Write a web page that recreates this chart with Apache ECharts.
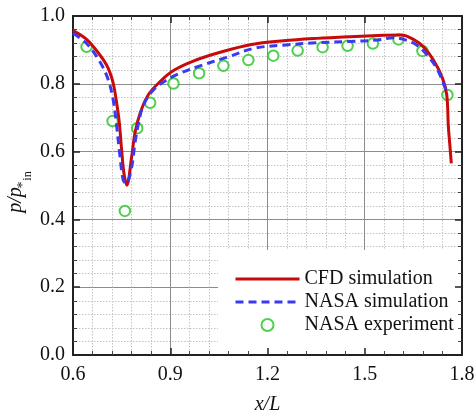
<!DOCTYPE html>
<html>
<head>
<meta charset="utf-8">
<script src="https://cdn.jsdelivr.net/npm/echarts@6/dist/echarts.min.js"></script>
<style>
  html, body { margin: 0; padding: 0; background: #fff; }
  #chart { width: 476px; height: 411px; }
</style>
</head>
<body>
<div id="chart"></div>
<script>
// Axis ticks
const xTickValues = [0.6, 0.9, 1.2, 1.5, 1.8];
const yTickValues = [0.0, 0.2, 0.4, 0.6, 0.8, 1.0];

// CFD simulation: pressure ratio along the duct
const cfdX = [0.600, 0.642, 0.683, 0.704, 0.714, 0.723, 0.730, 0.742, 0.750, 0.757, 0.766,
              0.781, 0.791, 0.807, 0.832, 0.868, 0.910, 0.971, 1.054, 1.150,
              1.249, 1.352, 1.455, 1.558, 1.614, 1.650, 1.681, 1.712, 1.740,
              1.753, 1.758, 1.763, 1.767];
const cfdY = [0.957, 0.931, 0.885, 0.855, 0.833, 0.806, 0.772, 0.693, 0.605, 0.537, 0.501,
              0.585, 0.654, 0.713, 0.767, 0.806, 0.839, 0.867, 0.893, 0.916,
              0.927, 0.934, 0.939, 0.943, 0.944, 0.931, 0.909, 0.870, 0.816,
              0.767, 0.673, 0.614, 0.565];

// NASA simulation
const nasaSimX = [0.600, 0.642, 0.683, 0.709, 0.724, 0.735, 0.745, 0.755, 0.764,
                  0.781, 0.791, 0.802, 0.817, 0.848, 0.889, 0.930, 0.992, 1.074,
                  1.160, 1.249, 1.352, 1.455, 1.537, 1.589, 1.620, 1.661, 1.692,
                  1.722, 1.743, 1.755];
const nasaSimY = [0.949, 0.919, 0.865, 0.811, 0.752, 0.673, 0.585, 0.516, 0.506,
                  0.555, 0.624, 0.683, 0.737, 0.782, 0.811, 0.831, 0.853, 0.878,
                  0.905, 0.914, 0.921, 0.925, 0.929, 0.936, 0.931, 0.914, 0.885,
                  0.846, 0.801, 0.767];

// NASA experiment
const nasaExpX = [0.642, 0.722, 0.760, 0.798, 0.838, 0.910, 0.989, 1.064, 1.141,
                  1.218, 1.293, 1.370, 1.447, 1.525, 1.604, 1.678, 1.755];
const nasaExpY = [0.909, 0.690, 0.425, 0.669, 0.744, 0.801, 0.831, 0.853, 0.870,
                  0.883, 0.898, 0.908, 0.912, 0.919, 0.931, 0.897, 0.767];

const zip = (xs, ys) => xs.map((x, i) => [x, ys[i]]);

const FONT = '"Liberation Serif", "Times New Roman", serif';
const INK = '#111';
const GRID = { left: 73, top: 16, width: 389, height: 339, containLabel: false, outerBoundsMode: 'none' };

const xMin = xTickValues[0], xMax = xTickValues[xTickValues.length - 1];
const xStep = +(xTickValues[1] - xTickValues[0]).toFixed(6);
const yMin = yTickValues[0], yMax = yTickValues[yTickValues.length - 1];
const yStep = +(yTickValues[1] - yTickValues[0]).toFixed(6);

// Axes that only carry the grid lines (drawn underneath everything)
function gridLineAxis(min, max, interval, extra) {
  return Object.assign({
    type: 'value', gridIndex: 0, min, max, interval, z: 0,
    axisLine: { show: false }, axisTick: { show: false }, axisLabel: { show: false },
    splitLine: { show: true, lineStyle: { color: '#8c8c8c', width: 1 } },
    minorTick: { show: false, splitNumber: 5 },
    minorSplitLine: { show: true, lineStyle: { color: '#c4c4c4', width: 1, type: [1.5, 1.5] } }
  }, extra);
}

// Frame axes with inward ticks
function frameAxis(min, max, interval, extra) {
  return Object.assign({
    type: 'value', gridIndex: 1, min, max, interval, z: 3,
    axisLine: { show: true, onZero: false, lineStyle: { color: '#222', width: 2 } },
    axisTick: { show: true, inside: true, length: 7, lineStyle: { color: '#222', width: 1.5 } },
    minorTick: { show: true, splitNumber: 5, length: 4, lineStyle: { color: '#444', width: 1 } },
    splitLine: { show: false },
    axisLabel: {
      show: false, margin: 8, fontFamily: FONT, fontSize: 20, color: INK,
      formatter: v => v.toFixed(1)
    }
  }, extra);
}

const chart = echarts.init(document.getElementById('chart'), null, { renderer: 'canvas' });

chart.setOption({
  backgroundColor: '#fff',
  animation: false,
  grid: [Object.assign({}, GRID), Object.assign({}, GRID)],
  xAxis: [
    gridLineAxis(xMin, xMax, xStep),
    frameAxis(xMin, xMax, xStep, {
      position: 'bottom',
      axisLabel: { show: true, margin: 10, fontFamily: FONT, fontSize: 20, color: INK, formatter: v => v.toFixed(1) },
      name: 'x/L', nameLocation: 'middle', nameGap: 40,
      nameTextStyle: { fontFamily: FONT, fontSize: 20, fontStyle: 'italic', color: INK }
    }),
    frameAxis(xMin, xMax, xStep, { position: 'top' })
  ],
  yAxis: [
    gridLineAxis(yMin, yMax, yStep),
    frameAxis(yMin, yMax, yStep, {
      position: 'left',
      axisLabel: { show: true, margin: 8, fontFamily: FONT, fontSize: 20, color: INK, formatter: v => v.toFixed(1) }
    }),
    frameAxis(yMin, yMax, yStep, { position: 'right' })
  ],
  legend: {
    orient: 'vertical',
    left: 229, top: 264,
    itemWidth: 64, itemHeight: 12, itemGap: 3,
    textStyle: { fontFamily: FONT, fontSize: 20, color: INK, lineHeight: 20 },
    data: [
      // line samples only, no marker dot
      { name: 'CFD simulation', itemStyle: { opacity: 0 }, lineStyle: { width: 3 } },
      { name: 'NASA simulation', itemStyle: { opacity: 0 }, lineStyle: { width: 3 } },
      { name: 'NASA experiment' }
    ]
  },
  graphic: [
    // blank panel behind the legend
    { type: 'rect', z: 1, shape: { x: 218, y: 250, width: 244, height: 105 }, style: { fill: '#fff' } },
    // y-axis title  p / p*_in
    { type: 'text', x: 16, y: 200, rotation: Math.PI / 2, z: 5,
      style: { text: 'p/p', font: 'italic 20px "Liberation Serif"', fill: INK,
               align: 'center', verticalAlign: 'middle', textAlign: 'center', textVerticalAlign: 'middle' } },
    { type: 'text', x: 23.5, y: 185, rotation: Math.PI / 2, z: 5,
      style: { text: '*', font: '14px "Liberation Serif"', fill: INK,
               align: 'center', verticalAlign: 'middle', textAlign: 'center', textVerticalAlign: 'middle' } },
    { type: 'text', x: 27.5, y: 176, rotation: Math.PI / 2, z: 5,
      style: { text: 'in', font: '12px "Liberation Serif"', fill: INK,
               align: 'center', verticalAlign: 'middle', textAlign: 'center', textVerticalAlign: 'middle' } }
  ],
  series: [
    {
      name: 'CFD simulation', type: 'line', xAxisIndex: 1, yAxisIndex: 1,
      data: zip(cfdX, cfdY), showSymbol: false, symbol: 'none',
      smooth: 0.35,
      lineStyle: { color: '#c80a0a', width: 3 }, itemStyle: { color: '#c80a0a' }
    },
    {
      name: 'NASA simulation', type: 'line', xAxisIndex: 1, yAxisIndex: 1,
      data: zip(nasaSimX, nasaSimY), showSymbol: false, symbol: 'none',
      smooth: 0.35,
      lineStyle: { color: '#3a3af0', width: 3, type: [8, 5] }, itemStyle: { color: '#3a3af0' }
    },
    {
      name: 'NASA experiment', type: 'scatter', xAxisIndex: 1, yAxisIndex: 1,
      data: zip(nasaExpX, nasaExpY), symbol: 'emptyCircle', symbolSize: 10.5,
      itemStyle: { color: '#22c322', borderWidth: 3 }
    }
  ]
});
</script>
</body>
</html>
